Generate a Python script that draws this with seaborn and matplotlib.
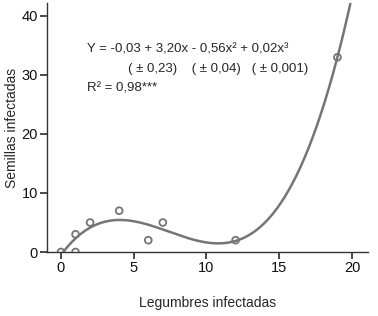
import numpy as np
import pandas as pd
import matplotlib
matplotlib.use('Agg')
import matplotlib.pyplot as plt
import seaborn as sns

# observed points
legumbres = [0, 1, 1, 2, 4, 6, 7, 12, 19]
semillas = [0, 0, 3, 5, 7, 2, 5, 2, 33]

eq_line1 = 'Y = -0,03 + 3,20x - 0,56x\u00b2 + 0,02x\u00b3'
eq_line2 = '( \u00b1 0,23)    ( \u00b1 0,04)   ( \u00b1 0,001)'
eq_line3 = 'R\u00b2 = 0,98***'

sns.set_theme(style='ticks')
plt.rcParams['font.family'] = ['Liberation Sans', 'DejaVu Sans']

df = pd.DataFrame({'x': legumbres, 'y': semillas})
gray = '#757575'

fig = plt.figure(figsize=(3.78, 3.16), dpi=100)
ax = fig.add_axes([47 / 378, 1 - 252 / 316, 321 / 378, 249 / 316])

# cubic fit drawn over the 0..20 range
coefs = np.polyfit(df['x'], df['y'], 3)
xs = np.linspace(0, 20.5, 300)
ax.plot(xs, np.polyval(coefs, xs), color=gray, linewidth=1.8)

sns.scatterplot(data=df, x='x', y='y', ax=ax, marker='o', s=24,
                facecolor='none', edgecolor=gray, linewidth=1.3, zorder=3)

ax.set_xlim(-0.96, 21.1)
ax.set_ylim(0, 42.2)
ax.set_xticks([0, 5, 10, 15, 20])
ax.set_yticks([0, 10, 20, 30, 40])
ax.tick_params(labelsize=10.5, length=5, pad=1.5, color='#333333', labelcolor='#111111')
for s in ['left', 'bottom']:
    ax.spines[s].set_color('#333333')
    ax.spines[s].set_linewidth(1.0)
sns.despine(ax=ax)
ax.set_xlabel('Legumbres infectadas', fontsize=10, labelpad=15)
ax.set_ylabel('Semillas infectadas', fontsize=10, labelpad=2)

ax.text(0.125, 0.815, eq_line1, transform=ax.transAxes, fontsize=9.5, va='center')
ax.text(0.252, 0.735, eq_line2, transform=ax.transAxes, fontsize=9.5, va='center')
ax.text(0.125, 0.655, eq_line3, transform=ax.transAxes, fontsize=9.5, va='center')

fig.savefig('out.png', dpi=100)
